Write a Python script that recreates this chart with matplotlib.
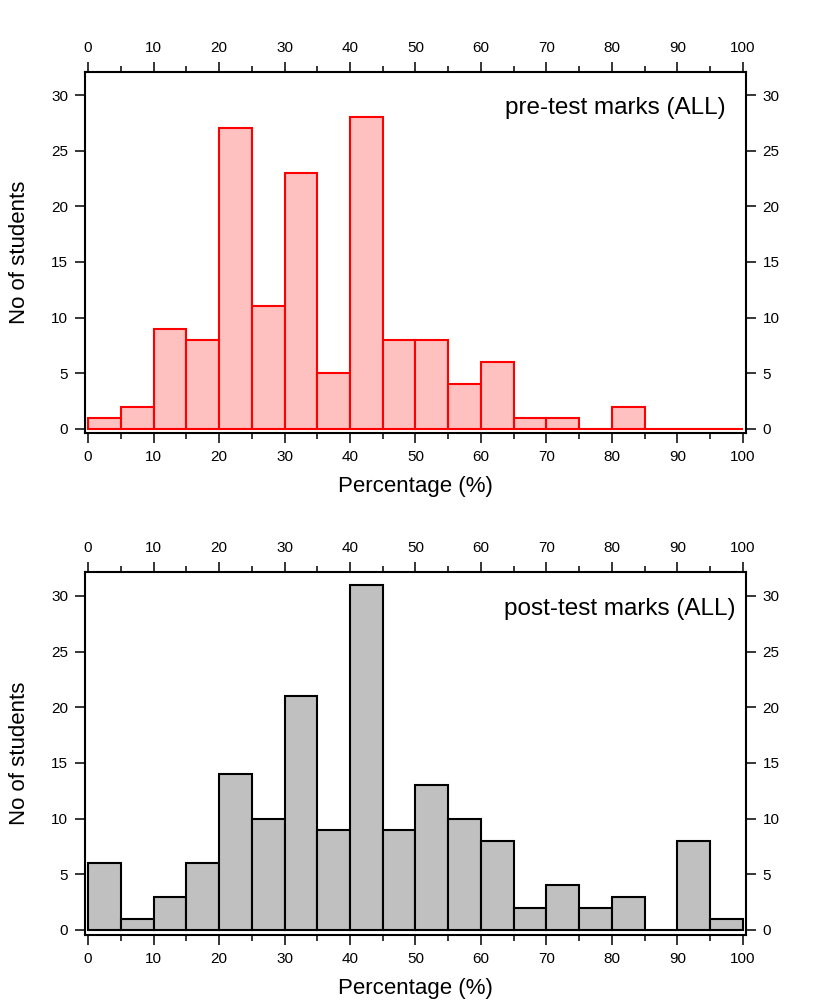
import numpy as np
import matplotlib.pyplot as plt

plt.rcParams['font.family'] = ['Liberation Sans', 'DejaVu Sans']

# Histogram data (bin left edges, counts per 5% bin)
bin_edges = np.arange(0, 100, 5)
pre_counts = [1, 2, 9, 8, 27, 11, 23, 5, 28, 8, 8, 4, 6, 1, 1, 0, 2, 0, 0, 0]
post_counts = [6, 1, 3, 6, 14, 10, 21, 9, 31, 9, 13, 10, 8, 2, 4, 2, 3, 0, 8, 1]

panels = [
    (pre_counts, '#ffc0c0', '#ff0000', 'pre-test marks (ALL)', 97.4, [0.1024, 0.5692, 0.7964, 0.3592], (-0.36, 32.07)),
    (post_counts, '#c0c0c0', '#000000', 'post-test marks (ALL)', 98.9, [0.1024, 0.0697, 0.7964, 0.3612], (-0.45, 32.16)),
]

fig = plt.figure(figsize=(8.3, 10.05), dpi=100)

for counts, fill, edge, label, lx, pos, ylim in panels:
    ax = fig.add_axes(pos)
    ax.bar(bin_edges, counts, width=5, align='edge', color=fill,
           edgecolor=edge, linewidth=1.5)
    ax.set_xlim(-0.46, 100.46)
    ax.set_ylim(*ylim)
    ax.set_xticks(np.arange(0, 101, 10))
    ax.set_xticks(np.arange(5, 100, 10), minor=True)
    ax.set_yticks(np.arange(0, 31, 5))
    ax.tick_params(which='both', direction='out', top=True, right=True,
                   labeltop=True, labelright=True, labelsize=11, width=1.1)
    ax.tick_params(which='major', length=7, pad=5)
    ax.tick_params(which='minor', length=4.5)
    for s in ax.spines.values():
        s.set_linewidth(1.5)
    ax.set_xlabel('Percentage (%)', fontsize=16, labelpad=9)
    ax.set_ylabel('No of students', fontsize=16, labelpad=15)
    ax.text(lx, 28.8, label, ha='right', va='center', fontsize=17.5)

plt.savefig('out.png', dpi=100)
